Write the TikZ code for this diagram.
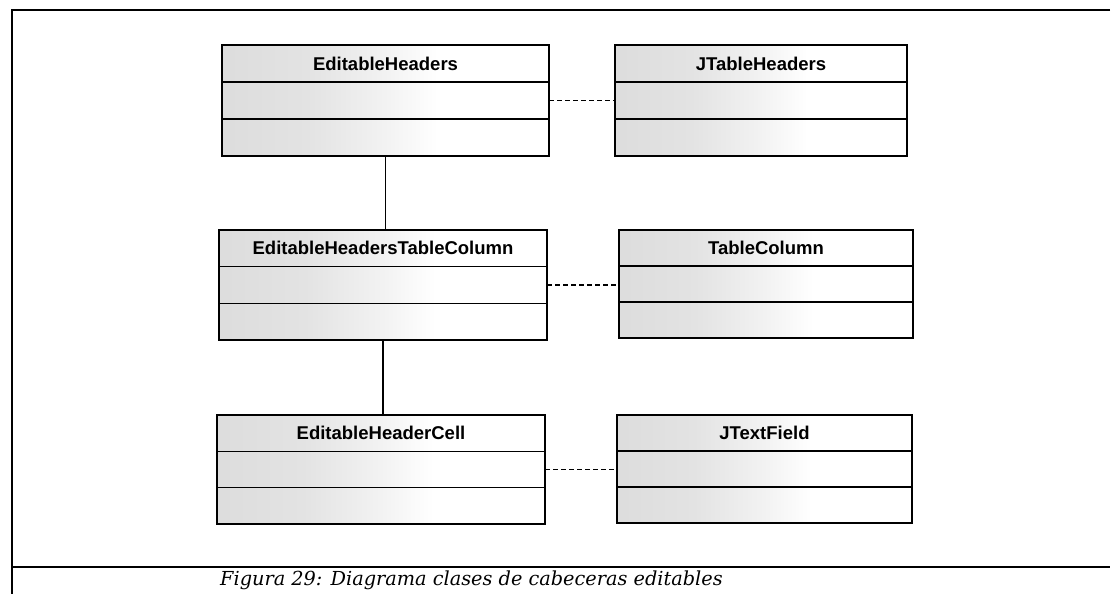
\documentclass[tikz,border=0pt]{standalone}
\usepackage{fontspec}
\newfontfamily\classfont{Liberation Sans}
\newfontfamily\captionfont{DejaVu Serif}
\usetikzlibrary{calc}

% light grey wash that fades out towards the right side of a class box
\pgfdeclarehorizontalshading{classwash}{100bp}{%
  color(0bp)=(gray!27); color(25bp)=(gray!27); color(38bp)=(gray!22);
  color(50bp)=(gray!10); color(58bp)=(white); color(100bp)=(white)}

% One UML class: name, x1, y1, x2, y2, title
\newcommand\umlclass[6]{%
  \node[classbox, minimum width={(#4-#2)*1pt}, minimum height={(#5-#3)*1pt}]
    (#1) at ({(#2+#4)/2},{(#3+#5)/2}) {};
  \draw[divider] ($(#1.north west)!1/3!(#1.south west)$) -- ($(#1.north east)!1/3!(#1.south east)$);
  \draw[divider] ($(#1.north west)!2/3!(#1.south west)$) -- ($(#1.north east)!2/3!(#1.south east)$);
  \node[classtitle] (#1-title) at ($(#1.north)!1/6!(#1.south)$) {#6};
}

\begin{document}
\begin{tikzpicture}[x=1pt, y=-1pt,
  frame/.style={line width=1.8pt},
  classbox/.style={draw, line width=1.4pt, inner sep=0pt, outer sep=0pt,
    shade, shading=classwash},
  divider/.style={line width=1.2pt},
  classtitle/.style={font=\classfont\bfseries\fontsize{18.5}{20}\selectfont, inner sep=0pt},
  assoc/.style={line width=1.8pt},
  dep/.style={line width=1.1pt, dash pattern=on 5pt off 3pt},
  captionstyle/.style={font=\captionfont\itshape\fontsize{19.3}{22}\selectfont, inner sep=0pt}]
\useasboundingbox (0,0) rectangle (1113,594);

% outer frame and caption rule
\coordinate (tl) at (12,10);
\coordinate (tr) at (1110,10);
\coordinate (bl) at (12,594);
\coordinate (sl) at (12,567);
\coordinate (sr) at (1110,567);
\draw[frame] (tr) -- (tl) -- (bl);
\draw[frame] (sl) -- (sr);

% classes
\umlclass{eh}{222}{45}{549}{156}{EditableHeaders}
\umlclass{jth}{615}{45}{907}{156}{JTableHeaders}
\umlclass{ehtc}{219}{230}{547}{340}{EditableHeadersTableColumn}
\umlclass{tc}{619}{230}{913}{338}{TableColumn}
\umlclass{ehc}{217}{415}{545}{524}{EditableHeaderCell}
\umlclass{jtf}{617}{415}{912}{523}{JTextField}

% associations
\draw[assoc] (eh.south) -- (eh.south |- ehtc.north);
\draw[assoc] (ehtc.south) -- (ehtc.south |- ehc.north);

% dependencies
\draw[dep] (eh.east) -- (eh.east -| jth.west);
\draw[dep] (ehtc.east) -- (ehtc.east -| tc.west);
\draw[dep] (ehc.east) -- (ehc.east -| jtf.west);

\node[captionstyle, anchor=base west] (caption) at (220,585)
  {Figura 29: Diagrama clases de cabeceras editables};
\end{tikzpicture}
\end{document}
